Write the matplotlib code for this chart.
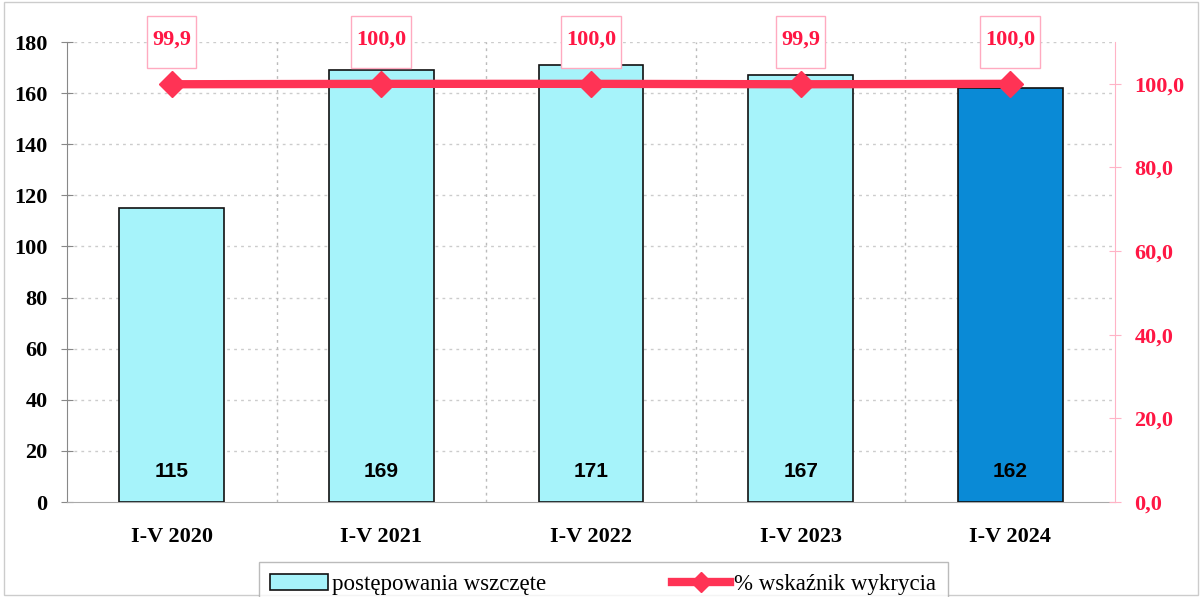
import numpy as np
import matplotlib.pyplot as plt
from matplotlib.patches import Rectangle

# data
categories = ['I-V 2020', 'I-V 2021', 'I-V 2022', 'I-V 2023', 'I-V 2024']
wszczete = [115, 169, 171, 167, 162]
wykrycie = [99.9, 100.0, 100.0, 99.9, 100.0]
left_ticks = list(range(0, 181, 20))
right_ticks = [0, 20, 40, 60, 80, 100]

serif = 'Liberation Serif'
red = '#ff1744'
line_red = '#ff3355'
light = '#a6f3fa'
dark = '#0a8ad6'


def pl(v):
    return ('%.1f' % v).replace('.', ',')


fig = plt.figure(figsize=(12.02, 5.97), dpi=100)
ax = fig.add_axes([0.0557, 0.1591, 0.8719, 0.7705])
ax2 = ax.twinx()

x = np.arange(len(categories))
colors = [light] * (len(categories) - 1) + [dark]
bars = ax.bar(x, wszczete, width=0.5, color=colors, edgecolor='#111111',
              linewidth=1.2, zorder=3)
for xi, v in zip(x, wszczete):
    ax.text(xi, 12, str(v), ha='center', va='center', fontsize=15,
            fontweight='bold', family='Liberation Sans', zorder=4)

ax.set_xlim(-0.5, len(categories) - 0.5)
ax.set_ylim(0, 180)
ax.set_yticks(left_ticks)
ax.set_xticks(x)
ax.set_xticklabels(categories)
for lab in ax.get_xticklabels() + ax.get_yticklabels():
    lab.set_family(serif)
    lab.set_fontweight('bold')
    lab.set_fontsize(16)
ax.tick_params(axis='x', length=0, pad=18)
ax.tick_params(axis='y', direction='inout', length=8, color='#888888', pad=10)

# grid
for t in left_ticks[1:]:
    ax.axhline(t, color='#cccccc', linestyle=(0, (2, 3)), linewidth=1, zorder=1)
for b in np.arange(0.5, len(categories) - 0.5, 1):
    ax.axvline(b, color='#bbbbbb', linestyle=(0, (2, 3)), linewidth=1, zorder=1)

for s in ['top', 'right']:
    ax.spines[s].set_visible(False)
ax.spines['left'].set_color('#888888')
ax.spines['bottom'].set_color('#aaaaaa')

# line on right axis
ax2.plot(x, wykrycie, color=line_red, linewidth=6, marker='D', markersize=13,
         zorder=5)
ax2.set_ylim(0, 110)
ax2.set_yticks(right_ticks)
ax2.set_yticklabels([pl(t) for t in right_ticks])
for s in ['top', 'left', 'bottom']:
    ax2.spines[s].set_visible(False)
ax2.spines['right'].set_color('#ffb3c6')
ax2.tick_params(axis='y', direction='inout', length=8, color='#ffb3c6',
                labelcolor=red, pad=10)
for lab in ax2.get_yticklabels():
    lab.set_family(serif)
    lab.set_fontweight('bold')
    lab.set_fontsize(16)

labels = []
for xi, v in zip(x, wykrycie):
    labels.append(ax2.text(xi, 110.5, pl(v), ha='center', va='center',
                           fontsize=16, family=serif, fontweight='bold',
                           color=red, clip_on=False, zorder=7))

# boxes around the line labels
fig.canvas.draw()
r = fig.canvas.get_renderer()
W, H = fig.bbox.width, fig.bbox.height
for t in labels:
    bb = t.get_window_extent(r)
    cx = (bb.x0 + bb.x1) / 2
    w = bb.width + 10
    ax2.add_patch(Rectangle(((cx - w / 2) / W, (H - 68) / H), w / W, 52 / H,
                            transform=fig.transFigure, fc='white',
                            ec='#ffaac0', lw=1, zorder=6, clip_on=False))

# legend
lh = plt.Line2D([], [], color=line_red, linewidth=6, marker='D', markersize=10)
leg = fig.legend([bars[0], lh],
                 ['postępowania wszczęte', '% wskaźnik wykrycia'],
                 loc='lower center', bbox_to_anchor=(0.502, -0.035), ncol=2,
                 frameon=True, fancybox=False, edgecolor='#aaaaaa',
                 prop={'family': serif, 'size': 16.5}, columnspacing=5.5,
                 handlelength=2.5, handletextpad=0.2, borderpad=0.5)

# outer border
fig.patches.append(Rectangle((0.003, 0.003), 0.994, 0.994, transform=fig.transFigure,
                             fill=False, edgecolor='#cccccc', linewidth=1))

fig.savefig('out.png', dpi=100)
